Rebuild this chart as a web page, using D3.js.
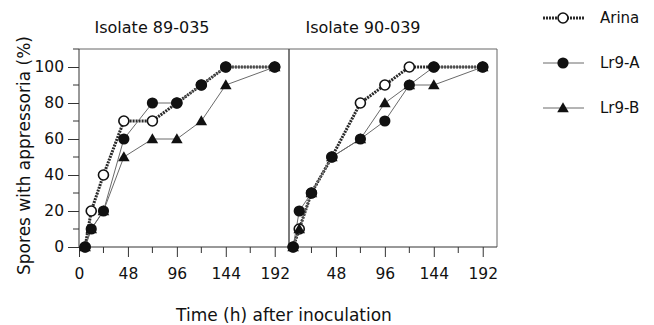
<!DOCTYPE html>
<html lang="en">
<head>
    <meta charset="UTF-8">
    <title>Appressoria</title>
    <script src="https://cdn.jsdelivr.net/npm/d3@7"></script>
    <style>
        html, body {
            padding: 0;
            margin: 0;
            background: #fff;
        }
        text {
            font-family: "DejaVu Sans", sans-serif;
            fill: #111;
        }
    </style>
</head>
<body>
<script>
// time points (h) and % spores with appressoria, one array per series
const times = [6, 12, 24, 44, 72, 96, 120, 144, 192]

const arina_89 = [0, 20, 40, 70, 70, 80, 90, 100, 100]
const lr9a_89  = [0, 10, 20, 60, 80, 80, 90, 100, 100]
const lr9b_89  = [0, 10, 20, 50, 60, 60, 70, 90, 100]

const arina_90 = [0, 10, 30, 50, 80, 90, 100, 100, 100]
const lr9a_90  = [0, 20, 30, 50, 60, 70, 90, 100, 100]
const lr9b_90  = [0, 10, 30, 50, 60, 80, 90, 90, 100]

const panelTitles = ['Isolate 89-035', 'Isolate 90-039']
const seriesNames = ['Arina', 'Lr9-A', 'Lr9-B']
const yTicks = [0, 20, 40, 60, 80, 100]
const xTicks = [0, 48, 96, 144, 192]

const W = 654, H = 325

const svg = d3.select('body')
    .append('svg')
    .attr('width', W)
    .attr('height', H)

const y = d3.scaleLinear().domain([0, 110]).range([247, 49])

// two panels, the right one shares the left one's right border
const panels = [
    { title: panelTitles[0], titleX: 152, x: d3.scaleLinear().domain([0, 206]).range([79, 289]), box: [79, 289],
      data: [arina_89, lr9a_89, lr9b_89], yaxis: true, zeroLabel: true },
    { title: panelTitles[1], titleX: 363, x: d3.scaleLinear().domain([0, 206]).range([287, 497]), box: [289, 497],
      data: [arina_90, lr9a_90, lr9b_90], yaxis: false, zeroLabel: false }
]

// line style per series
const lineStyle = [
    { stroke: '#2a2a2a', width: 3, dash: '2,1' },
    { stroke: '#6a6a6a', width: 1, dash: null },
    { stroke: '#6a6a6a', width: 1, dash: null }
]

function drawMarker(g, kind, cx, cy) {
    if (kind == 0) {
        g.append('circle')
            .attr('cx', cx).attr('cy', cy).attr('r', 5)
            .attr('fill', '#fff')
            .attr('stroke', '#111')
            .attr('stroke-width', 1.6)
    } else if (kind == 1) {
        g.append('circle')
            .attr('cx', cx).attr('cy', cy).attr('r', 5.6)
            .attr('fill', '#111')
    } else {
        g.append('path')
            .attr('d', d3.symbol().type(d3.symbolTriangle).size(58)())
            .attr('transform', `translate(${cx},${cy + 1})`)
            .attr('fill', '#111')
    }
}

panels.forEach(p => {
    const g = svg.append('g')

    // box (top + right), thin grey
    g.append('path')
        .attr('d', `M${p.box[0]},${y(110)}H${p.box[1]}V${y(0)}`)
        .attr('fill', 'none')
        .attr('stroke', '#666')
        .attr('stroke-width', 1)
    if (!p.yaxis) {
        g.append('line')
            .attr('x1', p.box[0]).attr('x2', p.box[0])
            .attr('y1', y(110)).attr('y2', y(0))
            .attr('stroke', '#444')
    }

    // x axis, major ticks every 48 and minor every 24
    const xa = g.append('g')
        .attr('transform', `translate(0,${y(0)})`)
        .call(d3.axisBottom(p.x)
            .tickValues(xTicks.filter(t => p.zeroLabel || t > 0))
            .tickSize(10)
            .tickPadding(11))
    xa.select('.domain')
        .attr('d', `M${p.box[0]},0H${p.box[1]}`)
        .attr('stroke', '#333')
    xa.selectAll('.tick line').attr('stroke', '#333')
    xa.selectAll('text')
        .style('font-size', '15.5px')
        .attr('fill', '#111')
    xa.selectAll('.minor')
        .data([24, 72, 120, 168])
        .join('line')
        .attr('class', 'minor')
        .attr('x1', d => p.x(d)).attr('x2', d => p.x(d))
        .attr('y1', 0).attr('y2', 6)
        .attr('stroke', '#333')

    if (p.yaxis) {
        const ya = g.append('g')
            .attr('transform', `translate(${p.box[0]},0)`)
            .call(d3.axisLeft(y)
                .tickValues(yTicks)
                .tickSize(11)
                .tickPadding(4))
        ya.select('.domain')
            .attr('d', `M0,${y(0)}V${y(110)}`)
            .attr('stroke', '#333')
        ya.selectAll('.tick line').attr('stroke', '#333')
        ya.selectAll('text')
            .style('font-size', '15.5px')
            .attr('fill', '#111')
        ya.selectAll('.minor')
            .data([10, 30, 50, 70, 90, 110])
            .join('line')
            .attr('class', 'minor')
            .attr('x1', -6).attr('x2', 0)
            .attr('y1', d => y(d)).attr('y2', d => y(d))
            .attr('stroke', '#333')
    }

    // panel title
    g.append('text')
        .attr('x', p.titleX)
        .attr('y', 33)
        .attr('text-anchor', 'middle')
        .style('font-size', '16px')
        .text(p.title)

    // lines first, then markers on top
    const line = d3.line()
        .x((d, i) => p.x(times[i]))
        .y(d => y(d))
    p.data.forEach((vals, k) => {
        g.append('path')
            .attr('d', line(vals))
            .attr('fill', 'none')
            .attr('stroke', lineStyle[k].stroke)
            .attr('stroke-width', lineStyle[k].width)
            .attr('stroke-dasharray', lineStyle[k].dash)
    })
    p.data.forEach((vals, k) => {
        vals.forEach((v, i) => drawMarker(g, k, p.x(times[i]), y(v)))
    })
})

// axis titles
svg.append('text')
    .attr('transform', `translate(30,${(33 + 278) / 2}) rotate(-90)`)
    .attr('text-anchor', 'middle')
    .style('font-size', '17px')
    .text('Spores with appressoria (%)')

svg.append('text')
    .attr('x', 284)
    .attr('y', 321)
    .attr('text-anchor', 'middle')
    .style('font-size', '17px')
    .text('Time (h) after inoculation')

// legend
const legY = [18, 63, 108]
const leg = svg.append('g')
seriesNames.forEach((name, k) => {
    leg.append('line')
        .attr('x1', 543).attr('x2', 584)
        .attr('y1', legY[k]).attr('y2', legY[k])
        .attr('stroke', lineStyle[k].stroke)
        .attr('stroke-width', lineStyle[k].width)
        .attr('stroke-dasharray', lineStyle[k].dash)
    drawMarker(leg, k, 563, legY[k])
    leg.append('text')
        .attr('x', 600)
        .attr('y', legY[k])
        .attr('dy', '0.36em')
        .style('font-size', '15px')
        .text(name)
})
</script>
</body>
</html>
